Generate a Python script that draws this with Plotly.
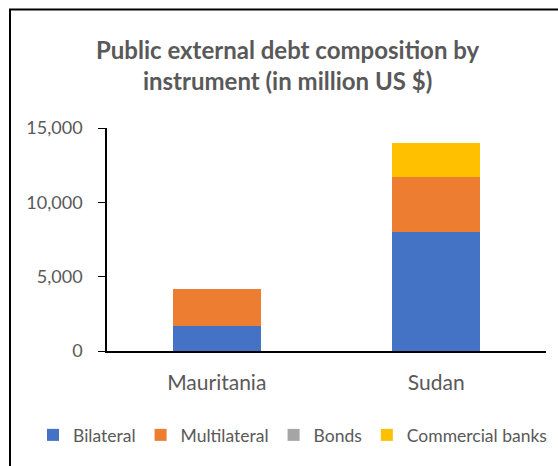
import plotly.graph_objects as go

countries = ["Mauritania", "Sudan"]
bilateral = [1650, 8000]
multilateral = [2520, 3720]
bonds = [0, 0]
commercial_banks = [0, 2270]

series = [
    ("Bilateral", bilateral, "#4472C4"),
    ("Multilateral", multilateral, "#ED7D31"),
    ("Bonds", bonds, "#A5A5A5"),
    ("Commercial banks", commercial_banks, "#FFC000"),
]

W, H = 558, 466
L, R, T, B = 107, 12, 128, 115
PW, PH = W - L - R, H - T - B


def px_x(px):
    return (px - L) / PW


def px_y(py):
    return (H - B - py) / PH


fig = go.Figure()
for name, vals, color in series:
    fig.add_trace(go.Bar(x=countries, y=vals, name=name, marker_color=color,
                         marker_line_width=0))

font = "Lato, 'Open Sans', sans-serif"
fig.update_layout(
    width=W, height=H,
    margin=dict(l=L, r=R, t=T, b=B),
    barmode="stack", bargap=0.6,
    plot_bgcolor="white", paper_bgcolor="white",
    font=dict(family=font, color="#595959", size=18),
    showlegend=True,
    legend=dict(orientation="h", x=px_x(33), xanchor="left", y=px_y(435),
                yanchor="middle", traceorder="normal",
                font=dict(size=17.5, color="#595959"),
                itemwidth=30, tracegroupgap=0),
    xaxis=dict(showline=True, linecolor="black", linewidth=2, ticks="",
               tickfont=dict(size=21), showgrid=False, ticklabelstandoff=12),
    yaxis=dict(range=[0, 15000], tickvals=[0, 5000, 10000, 15000],
               tickformat=",", showline=True, linecolor="black", linewidth=1.5,
               ticks="outside", ticklen=7, tickcolor="black", showgrid=False,
               zeroline=False, tickfont=dict(size=18), ticklabelstandoff=12),
    shapes=[
        dict(type="line", xref="paper", yref="paper", x0=px_x(10), x1=px_x(10),
             y0=px_y(9), y1=px_y(470), line=dict(color="black", width=2)),
        dict(type="line", xref="paper", yref="paper", x0=px_x(9), x1=px_x(560),
             y0=px_y(9.5), y1=px_y(9.5), line=dict(color="black", width=2)),
    ],
    annotations=[
        dict(text="<b>Public external debt composition by<br>instrument (in million US $)</b>",
             xref="paper", yref="paper", x=px_x(288), y=px_y(65), xanchor="center",
             yanchor="middle", showarrow=False,
             font=dict(size=24, color="#595959", family=font)),
    ],
)

fig.write_html("out.html")
